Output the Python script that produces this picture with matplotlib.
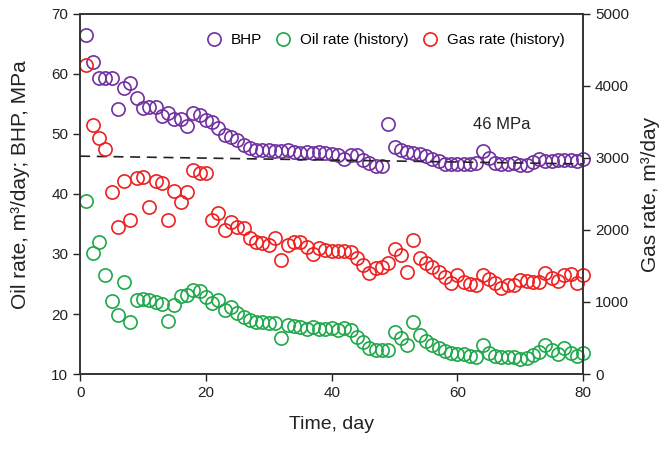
import numpy as np
import matplotlib
matplotlib.use('Agg')
import matplotlib.pyplot as plt

plt.rcParams['font.family'] = ['Liberation Sans', 'DejaVu Sans']

days = np.arange(1, 81)

bhp = [66.5, 62.0, 59.3, 59.3, 59.3, 54.2, 57.7, 58.5, 56.0, 54.3,
       54.5, 54.5, 53.0, 53.5, 52.5, 52.5, 51.3, 53.5, 53.2, 52.3,
       52.0, 51.0, 49.8, 49.5, 49.0, 48.2, 47.7, 47.4, 47.3, 47.3,
       47.2, 47.2, 47.3, 47.0, 46.8, 47.0, 46.8, 47.0, 46.8, 46.7,
       46.5, 45.8, 46.5, 46.5, 45.7, 45.2, 44.6, 44.6, 51.7, 47.8,
       47.3, 47.0, 46.8, 46.6, 46.3, 45.8, 45.5, 45.0, 45.0, 45.0,
       45.0, 45.0, 45.2, 47.2, 46.0, 45.2, 45.0, 45.0, 45.2, 44.8,
       44.8, 45.3, 45.8, 45.5, 45.5, 45.6, 45.7, 45.7, 45.5, 45.8]

oil = [38.8, 30.2, 32.0, 26.5, 22.2, 19.8, 25.3, 18.7, 22.3, 22.5,
       22.3, 22.0, 21.7, 18.8, 21.5, 23.0, 23.2, 24.0, 23.8, 22.8,
       21.8, 22.3, 20.7, 21.2, 20.2, 19.5, 19.0, 18.7, 18.7, 18.5,
       18.5, 16.0, 18.2, 18.0, 17.8, 17.5, 17.8, 17.5, 17.5, 17.6,
       17.4, 17.6, 17.3, 16.2, 15.3, 14.3, 14.0, 14.0, 14.0, 17.0,
       16.0, 14.8, 18.7, 16.5, 15.5, 14.8, 14.3, 13.8, 13.5, 13.3,
       13.3, 13.0, 12.8, 14.8, 13.5, 13.0, 12.8, 12.8, 12.8, 12.5,
       12.7, 13.2, 13.6, 14.8, 14.0, 13.3, 14.3, 13.5, 13.0, 13.5]

gas = [4290, 3460, 3275, 3125, 2525, 2042, 2683, 2142, 2725, 2733,
       2317, 2683, 2650, 2142, 2542, 2392, 2525, 2833, 2792, 2792,
       2142, 2233, 2000, 2108, 2042, 2025, 1892, 1833, 1817, 1792,
       1892, 1583, 1792, 1833, 1833, 1767, 1667, 1750, 1725, 1708,
       1708, 1708, 1692, 1608, 1517, 1400, 1475, 1483, 1542, 1733,
       1650, 1417, 1858, 1608, 1542, 1483, 1417, 1350, 1267, 1375,
       1275, 1250, 1233, 1375, 1317, 1267, 1192, 1233, 1233, 1308,
       1292, 1275, 1275, 1400, 1333, 1292, 1375, 1392, 1267, 1375]

ref_x = [0, 80]
ref_y = [46.3, 45.0]

c_bhp = '#7030A0'
c_oil = '#1EA84A'
c_gas = '#EE2020'

fig = plt.figure(figsize=(6.68, 4.49), dpi=100)
ax = fig.add_axes([0.120, 0.167, 0.753, 0.802])
ax2 = ax.twinx()

ms = 9.5
style = dict(mfc='none', ms=ms, mew=1.2, clip_on=False, linestyle='none', marker='o')
h1, = ax.plot(days, bhp, mec=c_bhp, label='BHP', **style)
h2, = ax.plot(days, oil, mec=c_oil, label='Oil rate (history)', **style)
h3, = ax2.plot(days, gas, mec=c_gas, label='Gas rate (history)', **style)
ax.plot(ref_x, ref_y, '--', color='#222222', lw=1.2, dashes=(6, 4))
ax.text(67, 51.6, '46 MPa', fontsize=12, ha='center', va='center', color='#222222')

ax.set_xlim(0, 80)
ax.set_ylim(10, 70)
ax2.set_ylim(0, 5000)
ax.set_xticks([0, 20, 40, 60, 80])
ax.set_yticks(range(10, 71, 10))
ax2.set_yticks(range(0, 5001, 1000))

for a in (ax, ax2):
    a.tick_params(labelsize=11, colors='#222222', width=1, length=5)
    for s in a.spines.values():
        s.set_color('#333333')
        s.set_linewidth(1.2)

ax.set_xlabel('Time, day', fontsize=14, color='#222222', labelpad=12)
ax.set_ylabel('Oil rate, m³/day; BHP, MPa', fontsize=15, color='#222222')
ax2.set_ylabel('Gas rate, m³/day', fontsize=15, color='#222222')
ax.yaxis.set_label_coords(-0.10, 0.525)
ax2.yaxis.set_label_coords(1.115, 0.5)

ax.legend(handles=[h1, h2, h3], ncol=3, frameon=False, fontsize=11,
          loc='upper right', bbox_to_anchor=(0.99, 0.985), handletextpad=0.5,
          columnspacing=0.8, handlelength=1.2)

fig.savefig('out.png', dpi=100)
